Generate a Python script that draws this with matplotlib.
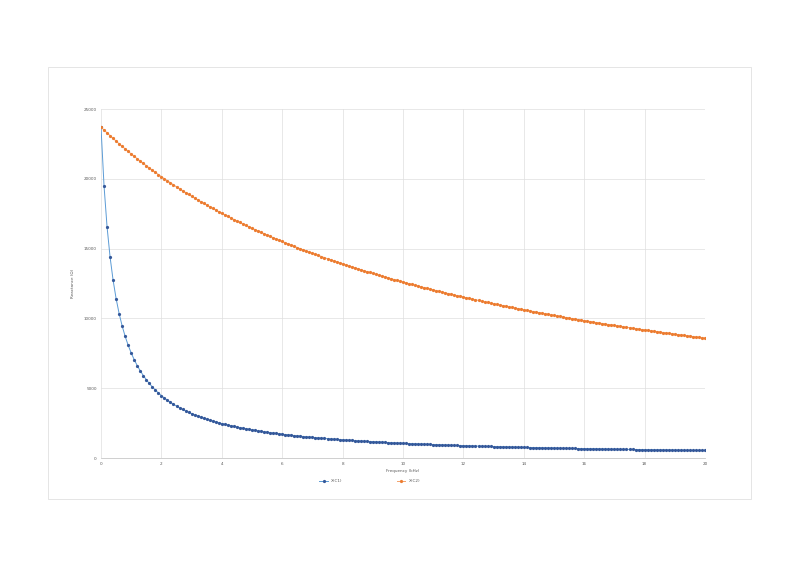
import numpy as np
import matplotlib
matplotlib.use("Agg")
import matplotlib.pyplot as plt
from matplotlib.patches import Rectangle

# x grid: 0 .. 20 in steps of 0.1
x = np.round(np.arange(201) * 0.1, 1)

series1 = [
    23700, 19506, 16573, 14407, 12742, 11422, 10349, 9461, 8713, 8075,
    7524, 7043, 6620, 6245, 5910, 5609, 5338, 5091, 4867, 4661,
    4472, 4297, 4136, 3987, 3847, 3718, 3596, 3483, 3376, 3276,
    3181, 3092, 3008, 2928, 2852, 2780, 2712, 2647, 2585, 2525,
    2469, 2415, 2363, 2313, 2266, 2220, 2176, 2134, 2094, 2055,
    2017, 1981, 1946, 1912, 1879, 1848, 1817, 1788, 1759, 1732,
    1705, 1679, 1654, 1629, 1606, 1583, 1560, 1538, 1517, 1497,
    1477, 1457, 1438, 1420, 1402, 1384, 1367, 1350, 1334, 1318,
    1302, 1287, 1272, 1258, 1243, 1230, 1216, 1203, 1190, 1177,
    1165, 1152, 1141, 1129, 1117, 1106, 1095, 1084, 1074, 1063,
    1053, 1043, 1034, 1024, 1015, 1005, 996, 987, 979, 970,
    961, 953, 945, 937, 929, 921, 914, 906, 899, 891,
    884, 877, 870, 864, 857, 850, 844, 837, 831, 825,
    819, 813, 807, 801, 795, 789, 784, 778, 773, 767,
    762, 757, 752, 747, 742, 737, 732, 727, 722, 717,
    713, 708, 704, 699, 695, 690, 686, 682, 678, 674,
    669, 665, 661, 658, 654, 650, 646, 642, 638, 635,
    631, 628, 624, 621, 617, 614, 610, 607, 604, 600,
    597, 594, 591, 587, 584, 581, 578, 575, 572, 569,
    566, 563, 561, 558, 555, 552, 549, 547, 544, 541,
    539,
]

series2 = [
    23700, 23493, 23290, 23090, 22894, 22701, 22511, 22325, 22141, 21961,
    21783, 21608, 21436, 21267, 21100, 20936, 20775, 20616, 20459, 20305,
    20153, 20004, 19856, 19711, 19568, 19426, 19287, 19150, 19015, 18881,
    18750, 18620, 18493, 18366, 18242, 18119, 17998, 17879, 17761, 17644,
    17530, 17416, 17304, 17194, 17085, 16977, 16871, 16766, 16662, 16560,
    16458, 16358, 16260, 16162, 16066, 15970, 15876, 15783, 15691, 15600,
    15510, 15422, 15334, 15247, 15161, 15076, 14992, 14909, 14827, 14746,
    14666, 14586, 14508, 14430, 14353, 14277, 14202, 14127, 14054, 13981,
    13908, 13837, 13766, 13696, 13627, 13558, 13490, 13423, 13357, 13291,
    13225, 13161, 13097, 13034, 12971, 12908, 12847, 12786, 12726, 12666,
    12606, 12548, 12489, 12432, 12375, 12318, 12262, 12206, 12151, 12097,
    12043, 11989, 11936, 11883, 11831, 11779, 11728, 11677, 11627, 11577,
    11527, 11478, 11429, 11381, 11333, 11286, 11239, 11192, 11146, 11100,
    11054, 11009, 10964, 10920, 10876, 10832, 10788, 10745, 10703, 10660,
    10618, 10577, 10535, 10494, 10453, 10413, 10373, 10333, 10294, 10254,
    10216, 10177, 10139, 10101, 10063, 10025, 9988, 9951, 9915, 9878,
    9842, 9806, 9771, 9736, 9700, 9666, 9631, 9597, 9563, 9529,
    9495, 9462, 9429, 9396, 9363, 9331, 9298, 9267, 9235, 9203,
    9172, 9141, 9110, 9079, 9049, 9018, 8988, 8958, 8929, 8899,
    8870, 8841, 8812, 8783, 8754, 8726, 8698, 8670, 8642, 8614,
    8587,
]

labels = ["X(C1)", "X(C2)"]
xticks = [0, 2, 4, 6, 8, 10, 12, 14, 16, 18, 20]
yticks = [0, 5000, 10000, 15000, 20000, 25000]

fig = plt.figure(figsize=(8, 5.66), dpi=100)
fig.patch.set_facecolor("white")

# light frame around the chart area
fig.patches.append(Rectangle((0.06, 0.1184), 0.879, 0.763, transform=fig.transFigure,
                             fill=False, edgecolor="#e0e0e0", linewidth=0.6))

ax = fig.add_axes([0.12625, 0.1908, 0.755, 0.6166])
ax.plot(x, series1, color="#5b9bd5", linewidth=0.7, marker="o", markersize=1.3,
        markerfacecolor="#34589a", markeredgecolor="#34589a", label=labels[0])
ax.plot(x, series2, color="#f4a36c", linewidth=0.7, marker="o", markersize=1.3,
        markerfacecolor="#ec7c30", markeredgecolor="#ec7c30", label=labels[1])

ax.set_xlim(0, 20)
ax.set_ylim(0, 25000)
ax.set_xticks(xticks)
ax.set_yticks(yticks)
ax.tick_params(labelsize=3, length=0, colors="#595959", pad=3)
ax.grid(True, color="#dedede", linewidth=0.5)
ax.set_axisbelow(True)
for side in ["top", "right", "left"]:
    ax.spines[side].set_visible(False)
ax.spines["bottom"].set_color("#c8c8c8")
ax.spines["bottom"].set_linewidth(0.6)

ax.set_xlabel("Frequency (kHz)", fontsize=3, color="#595959", labelpad=2)
ax.set_ylabel("Reactance (Ω)", fontsize=3, color="#595959", labelpad=6)

ax.legend(loc="upper center", bbox_to_anchor=(0.445, -0.05), ncol=2, frameon=False,
          fontsize=3, columnspacing=13, handlelength=2, labelcolor="#595959")

fig.savefig("out.png", dpi=100)
